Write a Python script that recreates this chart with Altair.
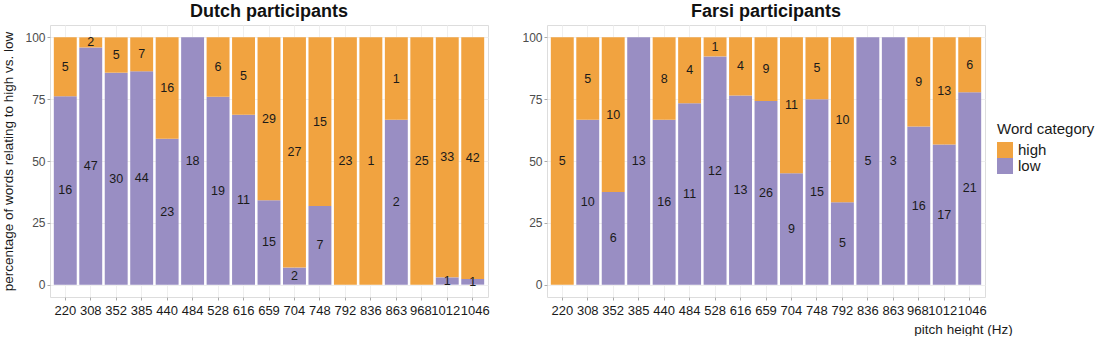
import altair as alt
import pandas as pd

freqs = ["220", "308", "352", "385", "440", "484", "528", "616", "659",
         "704", "748", "792", "836", "863", "968", "1012", "1046"]
dutch_high = [5, 2, 5, 7, 16, 0, 6, 5, 29, 27, 15, 23, 1, 1, 25, 33, 42]
dutch_low = [16, 47, 30, 44, 23, 18, 19, 11, 15, 2, 7, 0, 0, 2, 0, 1, 1]
farsi_high = [5, 5, 10, 0, 8, 4, 1, 4, 9, 11, 5, 10, 0, 0, 9, 13, 6]
farsi_low = [0, 10, 6, 13, 16, 11, 12, 13, 26, 9, 15, 5, 5, 3, 16, 17, 21]
categories = ["high", "low"]
colors = ["#f1a340", "#998ec3"]

FONT = "Liberation Sans"


def make_df(high, low):
    rows = []
    for f, h, l in zip(freqs, high, low):
        rows.append({"freq": f, "cat": "low", "n": l, "ord": 0})
        rows.append({"freq": f, "cat": "high", "n": h, "ord": 1})
    return pd.DataFrame(rows)


def panel(df, title, ytitle, xtitle):
    base = (
        alt.Chart(df)
        .transform_joinaggregate(total="sum(n)", groupby=["freq"])
        .transform_calculate(pct="datum.n / datum.total * 100")
        .transform_stack(stack="pct", as_=["y0", "y1"], groupby=["freq"],
                         sort=[alt.SortField("ord", order="ascending")])
        .transform_calculate(mid="(datum.y0 + datum.y1) / 2")
    )
    xaxis_kwargs = dict(
        labelAngle=0, labelFontSize=13, labelColor="#1a1a1a", labelFont=FONT,
        labelPadding=4, tickSize=3, tickColor="#aaaaaa", domain=False,
        grid=True, gridColor="#efefef", bandPosition=0.5, labelOverlap=False,
        labelOffset={"condition": [
            {"test": "datum.label == '968'", "value": -1},
            {"test": "datum.label == '1012'", "value": -1.5},
            {"test": "datum.label == '1046'", "value": 2.5},
        ], "value": 0},
    )
    if xtitle:
        xaxis = alt.Axis(title=xtitle, titleFont=FONT, titleFontSize=13.5,
                         titleFontWeight="normal", titleColor="#1a1a1a",
                         titleX=416, titleY=32, titleAlign="center",
                         titleBaseline="middle", **xaxis_kwargs)
    else:
        xaxis = alt.Axis(title=None, **xaxis_kwargs)
    x = alt.X("freq:N", sort=freqs,
              scale=alt.Scale(paddingInner=0.1, paddingOuter=0.15),
              axis=xaxis)
    yaxis_kwargs = dict(
        values=[0, 25, 50, 75, 100], labelFontSize=12, labelColor="#4d4d4d",
        labelFont=FONT, labelPadding=2, tickSize=3, tickColor="#aaaaaa",
        domain=False, grid=True, gridColor="#efefef",
    )
    if ytitle:
        yaxis = alt.Axis(title=ytitle, titleFont=FONT, titleFontSize=13.5,
                         titleFontWeight="normal", titleColor="#1a1a1a",
                         titlePadding=9, **yaxis_kwargs)
    else:
        yaxis = alt.Axis(title=None, **yaxis_kwargs)
    yscale = alt.Scale(domain=[-5, 105], nice=False, zero=False)
    bars = base.mark_bar().encode(
        x=x,
        y=alt.Y("y0:Q", scale=yscale, axis=yaxis),
        y2="y1:Q",
        color=alt.Color(
            "cat:N",
            scale=alt.Scale(domain=categories, range=colors),
            legend=alt.Legend(
                title="Word category", orient="none", legendX=947, legendY=97,
                titleFont=FONT, titleFontSize=15, titleFontWeight="normal",
                titleColor="#1a1a1a", labelFont=FONT, labelFontSize=15,
                labelColor="#1a1a1a", symbolType="square", symbolSize=256,
                symbolStrokeWidth=0, symbolOpacity=1, titlePadding=5,
                rowPadding=0, labelOffset=5,
            ),
        ),
    )
    text = base.transform_filter("datum.n > 0").mark_text(
        fontSize=12.5, color="#1a1a1a", font=FONT
    ).encode(
        x=x,
        y=alt.Y("mid:Q", scale=yscale, axis=yaxis),
        text="n:Q",
    )
    return alt.layer(bars, text).properties(
        width=438, height=272,
        title=alt.TitleParams(title, fontSize=18, fontWeight="bold", font=FONT,
                              anchor="middle", offset=4, color="#111111"),
    )


left = panel(make_df(dutch_high, dutch_low), "Dutch participants",
             "percentage of words relating to high vs. low", None)
right = panel(make_df(farsi_high, farsi_low), "Farsi participants", None,
              "pitch height (Hz)")

chart = (
    alt.hconcat(left, right, spacing=31)
    .properties(padding={"left": 1, "top": 2, "right": 0, "bottom": 0})
    .configure_view(stroke=None)
    .configure(background="white")
)

chart.save("out.html", embed_options={"renderer": "svg", "actions": False})
